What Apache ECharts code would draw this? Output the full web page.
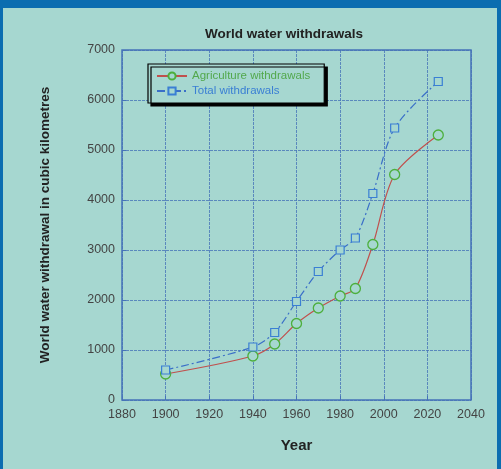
<!DOCTYPE html>
<html><head><meta charset="utf-8">
<script src="https://cdn.jsdelivr.net/npm/echarts@6/dist/echarts.min.js"></script>
<style>html,body{margin:0;padding:0;background:#0b6db0}#c{width:501px;height:469px}</style>
</head><body><div id="c"></div>
<script>
var years = [1900, 1940, 1950, 1960, 1970, 1980, 1987, 1995, 2005, 2025];
var agriculture = [520, 880, 1120, 1530, 1840, 2080, 2230, 3110, 4510, 5300];
var total = [600, 1060, 1350, 1970, 2570, 3000, 3240, 4130, 5440, 6370];
var seriesNames = ['Agriculture withdrawals', 'Total withdrawals'];

var teal = '#a6d7d0';
var gridBlue = '#4673b8';
function pairs(v){ return years.map(function(y,i){ return [y, v[i]]; }); }

var chart = echarts.init(document.getElementById('c'), null, {renderer:'canvas'});
chart.setOption({
  backgroundColor: '#0b6db0',
  animation: false,
  graphic: [{type:'rect', z:-10, shape:{x:3, y:8, width:494, height:461}, style:{fill:teal}}],
  title: {text:'World water withdrawals', left:200, top:22,
    textStyle:{fontFamily:'Liberation Sans, Arial', fontWeight:'bold', fontSize:13.5, color:'#222'}},
  legend: {
    orient:'vertical', left:148, top:64, itemWidth:30, itemHeight:9, itemGap:3,
    padding:[6, 14, 6, 8],
    backgroundColor: teal, borderColor:'#000', borderWidth:1.2,
    shadowColor:'rgba(0,0,0,1)', shadowOffsetX:3, shadowOffsetY:3, shadowBlur:0,
    textStyle:{fontFamily:'Liberation Sans, Arial', fontSize:11.5},
    data:[{name:seriesNames[0], textStyle:{color:'#52a84c'}},
          {name:seriesNames[1], textStyle:{color:'#3a7fd4'}}]
  },
  grid: {left:122, right:30, top:50, bottom:69, show:true, borderColor:gridBlue, borderWidth:1.5},
  xAxis: {
    type:'value', min:1880, max:2040, interval:20,
    name:'Year', nameLocation:'middle', nameGap:38,
    nameTextStyle:{fontFamily:'Liberation Sans, Arial', fontWeight:'bold', fontSize:15, color:'#222'},
    axisLine:{show:false},
    axisTick:{inside:true, length:4, lineStyle:{color:gridBlue}},
    axisLabel:{fontFamily:'Liberation Sans, Arial', fontSize:12.5, color:'#444', margin:8,
      formatter:function(v){ return String(v); }},
    splitLine:{show:true, lineStyle:{color:gridBlue, type:[3,1], width:0.8}}
  },
  yAxis: {
    type:'value', min:0, max:7000, interval:1000,
    name:'World water withdrawal in cubic kilometres', nameLocation:'middle', nameGap:70,
    nameTextStyle:{fontFamily:'Liberation Sans, Arial', fontWeight:'bold', fontSize:13.5, color:'#222'},
    axisLine:{show:false},
    axisTick:{inside:true, length:4, lineStyle:{color:gridBlue}},
    axisLabel:{fontFamily:'Liberation Sans, Arial', fontSize:12.5, color:'#444', margin:7,
      formatter:function(v){ return String(v); }},
    splitLine:{show:true, lineStyle:{color:gridBlue, type:[3,1], width:0.8}}
  },
  series: [
    {name:seriesNames[0], type:'line', data:pairs(agriculture), smooth:0.3,
     symbol:'circle', symbolSize:10,
     lineStyle:{color:'#c0504d', width:1.2},
     itemStyle:{color:teal, borderColor:'#4caf3c', borderWidth:1.3}},
    {name:seriesNames[1], type:'line', data:pairs(total), smooth:0.3,
     symbol:'rect', symbolSize:8,
     lineStyle:{color:'#3a6fc8', width:1.2, type:[8,3,2,3]},
     itemStyle:{color:teal, borderColor:'#3a7fd4', borderWidth:1.2}}
  ]
});
</script></body></html>
